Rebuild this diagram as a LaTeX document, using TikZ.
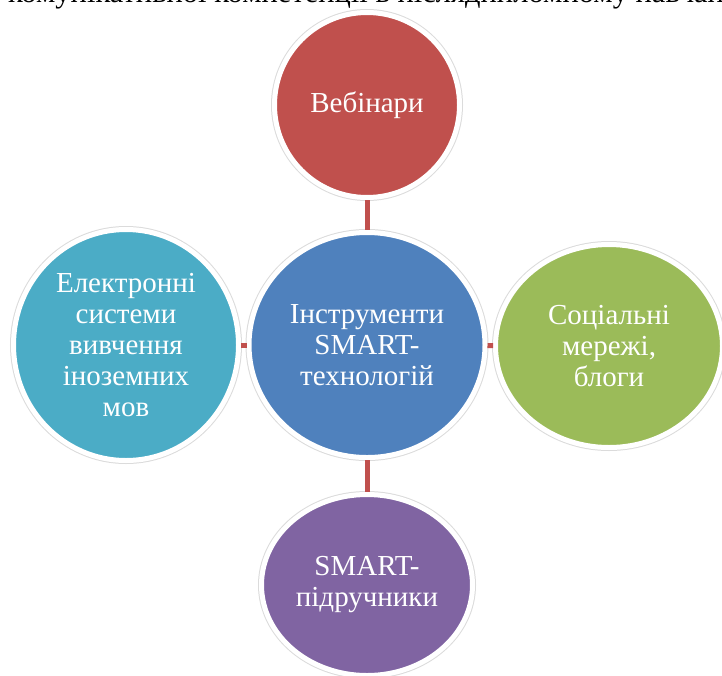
\documentclass[tikz,border=0pt]{standalone}
\usepackage{fontspec}
\setmainfont{Liberation Serif}
\usetikzlibrary{shapes.geometric}
\definecolor{cred}{HTML}{C0504D}
\definecolor{cblue}{HTML}{4F81BD}
\definecolor{cgreen}{HTML}{9BBB59}
\definecolor{cpurple}{HTML}{8064A2}
\definecolor{cteal}{HTML}{4BACC6}
\begin{document}
\begin{tikzpicture}[x=1pt,y=-1pt,
  bub/.style={ellipse, inner sep=0pt, draw=white, line width=5pt,
    preaction={draw=black!14, line width=7pt}},
  txt/.style={text=white, align=center, inner sep=0pt,
    font=\fontsize{29}{31}\selectfont},
  conn/.style={draw=cred, line width=5pt}]
\clip (0,0) rectangle (722,675);
\fill[white] (0,0) rectangle (722,675);
\node[anchor=base west, inner sep=0pt, font=\fontsize{30.5}{32}\selectfont] (title) at (8,2.5)
  {комунікативної компетенції в післядипломному навчанні};
\node[bub, fill=cred, minimum width=185pt, minimum height=185pt] (red) at (367,105) {};
\node[bub, fill=cblue, minimum width=236pt, minimum height=225pt] (blue) at (367,345) {};
\node[bub, fill=cteal, minimum width=225pt, minimum height=231pt] (teal) at (126,345) {};
\node[bub, fill=cgreen, minimum width=227pt, minimum height=203pt] (green) at (609,346) {};
\node[bub, fill=cpurple, minimum width=211pt, minimum height=181pt] (purple) at (367,585) {};
\node[txt] (redT) at (red) {Вебінари};
\node[txt] (blueT) at (blue) {Інструменти\\SMART-\\технологій};
\node[txt] (tealT) at (teal) {Електронні\\системи\\вивчення\\іноземних\\мов};
\node[txt] (greenT) at (green) {Соціальні\\мережі,\\блоги};
\node[txt] (purpleT) at (purple) {SMART-\\підручники};
\draw[conn] (red) -- (blue);
\draw[conn] (blue) -- (purple);
\draw[conn] (teal) -- (blue);
\draw[conn] (blue) -- (green);
\end{tikzpicture}
\end{document}
